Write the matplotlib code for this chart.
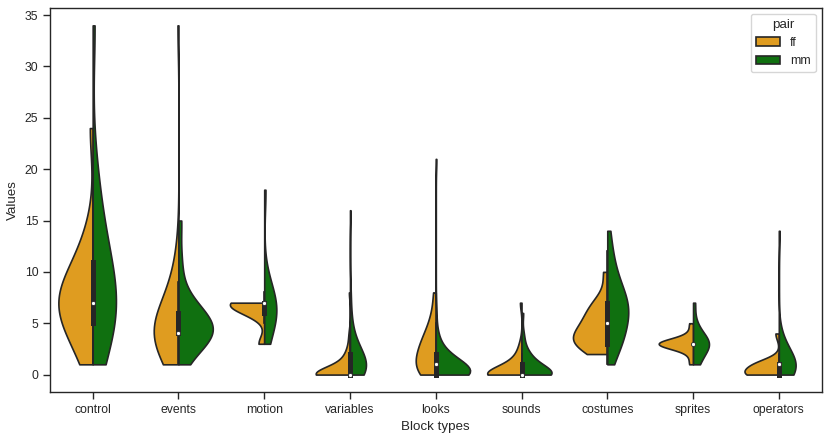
import numpy as np
import matplotlib
matplotlib.use("Agg")
import matplotlib.pyplot as plt
from matplotlib.patches import Patch

# block types on the x axis
block_types = ["control", "events", "motion", "variables", "looks",
               "sounds", "costumes", "sprites", "operators"]
pairs = ["ff", "mm"]

# observations per block type and pair, as (value, how many times)
control_ff = [(1, 1), (2, 1), (3, 1), (4, 1), (5, 2), (6, 2), (7, 3), (8, 2), (9, 2),
              (10, 1), (11, 1), (12, 1), (14, 1), (24, 1)]
control_mm = [(1, 1), (2, 1), (3, 1), (4, 1), (5, 1), (6, 2), (7, 3), (8, 1), (9, 1),
              (10, 1), (11, 1), (12, 1), (13, 1), (15, 1), (17, 1), (20, 1), (34, 1)]
events_ff = [(1, 3), (2, 3), (3, 3), (4, 11), (5, 4), (6, 3), (7, 2), (8, 2), (9, 1),
             (10, 1), (12, 1), (34, 1)]
events_mm = [(1, 1), (2, 1), (3, 2), (4, 6), (5, 3), (6, 3), (7, 1), (8, 1), (11, 1), (15, 1)]
motion_ff = [(3, 2), (6, 4), (7, 10)]
motion_mm = [(3, 1), (4, 1), (5, 1), (6, 4), (7, 3), (8, 1), (9, 1), (18, 1)]
variables_ff = [(0, 30), (1, 6), (2, 3), (3, 1), (4, 1), (8, 1)]
variables_mm = [(0, 13), (1, 12), (2, 8), (3, 4), (4, 2), (5, 1), (6, 1), (8, 1), (16, 1)]
looks_ff = [(0, 4), (1, 4), (2, 3), (3, 3), (4, 2), (5, 1), (6, 1), (8, 1)]
looks_mm = [(0, 45), (1, 22), (2, 9), (3, 3), (4, 2), (6, 1), (21, 1)]
sounds_ff = [(0, 20), (1, 5), (2, 2), (3, 1), (7, 1)]
sounds_mm = [(0, 16), (1, 6), (2, 3), (3, 1), (4, 1), (6, 1)]
costumes_ff = [(2, 1), (3, 5), (4, 3), (5, 2), (6, 2), (7, 2), (10, 1)]
costumes_mm = [(1, 1), (2, 1), (3, 3), (4, 2), (5, 3), (6, 3), (7, 4), (8, 2), (9, 2),
               (10, 1), (11, 1), (12, 1), (14, 1)]
sprites_ff = [(1, 1), (2, 1), (3, 10), (4, 1), (5, 1)]
sprites_mm = [(1, 2), (2, 2), (3, 6), (4, 2), (5, 1), (7, 1)]
operators_ff = [(0, 8), (1, 6), (4, 1)]
operators_mm = [(0, 8), (1, 10), (2, 4), (3, 2), (4, 1), (14, 1)]

ff_data = [control_ff, events_ff, motion_ff, variables_ff, looks_ff,
           sounds_ff, costumes_ff, sprites_ff, operators_ff]
mm_data = [control_mm, events_mm, motion_mm, variables_mm, looks_mm,
           sounds_mm, costumes_mm, sprites_mm, operators_mm]

colors = ["#DF9C20", "#107010"]   # orange / green, desaturated like seaborn
gray = "#262626"
lw = 1.2


def expand(obs):
    return np.repeat([v for v, c in obs], [c for v, c in obs]).astype(float)


def kde(x, grid):
    # gaussian kde, scott bandwidth
    bw = len(x) ** -0.2 * x.std(ddof=1)
    z = (grid[:, None] - x[None, :]) / bw
    return np.exp(-0.5 * z ** 2).sum(axis=1) / (len(x) * bw * np.sqrt(2 * np.pi))


plt.rcParams["font.family"] = ["Liberation Sans", "DejaVu Sans"]
plt.rcParams["text.color"] = ".15"
plt.rcParams["axes.labelcolor"] = ".15"
plt.rcParams["axes.edgecolor"] = ".15"
plt.rcParams["axes.linewidth"] = 1.0
plt.rcParams["xtick.color"] = ".15"
plt.rcParams["ytick.color"] = ".15"
plt.rcParams["xtick.major.size"] = 4.8
plt.rcParams["ytick.major.size"] = 4.8
plt.rcParams["xtick.major.width"] = 1.0
plt.rcParams["ytick.major.width"] = 1.0

fig, ax = plt.subplots(figsize=(8.3, 4.4), dpi=100)
fig.subplots_adjust(left=0.060, right=0.990, top=0.982, bottom=0.109)

for i, (ff, mm) in enumerate(zip(ff_data, mm_data)):
    halves = []
    for obs in (ff, mm):
        x = expand(obs)
        support = np.linspace(x.min(), x.max(), 100)
        halves.append((support, kde(x, support)))
    # area scaling within each block type
    peak = max(d.max() for _, d in halves)
    for side, (support, dens), color in zip((-1, 1), halves, colors):
        ax.fill_betweenx(support, i, i + side * dens / peak * 0.4,
                         facecolor=color, edgecolor=gray, linewidth=lw)

    # inner box for the whole block type
    vals = np.concatenate([expand(ff), expand(mm)])
    q25, q50, q75 = np.percentile(vals, [25, 50, 75])
    iqr = q75 - q25
    lo = vals[vals >= q25 - 1.5 * iqr].min()
    hi = vals[vals <= q75 + 1.5 * iqr].max()
    ax.plot([i, i], [lo, hi], color=gray, linewidth=lw)
    ax.plot([i, i], [q25, q75], color=gray, linewidth=lw * 3)
    ax.scatter(i, q50, s=9, color="white", edgecolor=gray,
               linewidth=0.6, zorder=3)

ax.set_xticks(range(len(block_types)))
ax.set_xticklabels(block_types)
ax.set_xlim(-0.5, len(block_types) - 0.5)
ax.set_yticks(range(0, 36, 5))
ax.tick_params(labelsize=8.8)
ax.set_xlabel("Block types", fontsize=9.6)
ax.set_ylabel("Values", fontsize=9.6)

handles = [Patch(facecolor=c, edgecolor=gray, linewidth=lw, label=p)
           for c, p in zip(colors, pairs)]
ax.legend(handles=handles, title="pair", loc="upper right",
          fontsize=8.8, title_fontsize=9.6)

fig.savefig("out.png", dpi=100)
